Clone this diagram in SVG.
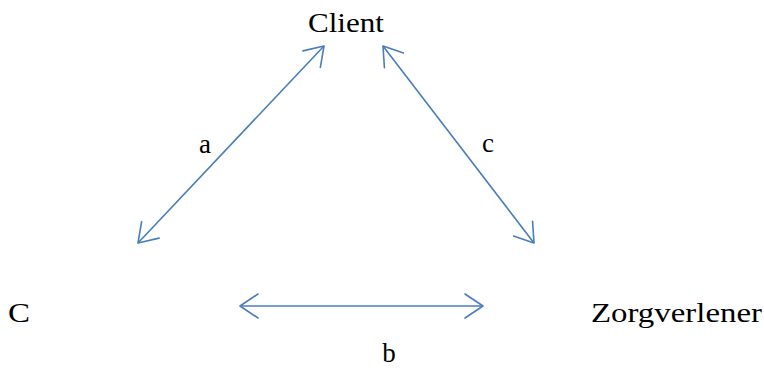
<svg xmlns="http://www.w3.org/2000/svg" width="764" height="370" viewBox="0 0 764 370">
<style>
.t{font-family:"Liberation Serif","Times New Roman",serif;fill:#000}
.big{font-size:28px}
.sm{font-size:27px}
.ln{stroke:#4a7ebb;stroke-width:1.6;fill:none}
</style>
<defs>
<marker id="ah" viewBox="0 0 20 26" refX="19" refY="13" markerWidth="20" markerHeight="26" markerUnits="userSpaceOnUse" orient="auto-start-reverse">
<path d="M1,1 L19,13 L1,25" fill="none" stroke="#4a7ebb" stroke-width="1.6" stroke-linecap="round" stroke-linejoin="round"/>
</marker>
</defs>
<g id="client"><text class="t big" x="346" y="32" text-anchor="middle" textLength="76" lengthAdjust="spacingAndGlyphs">Client</text></g>
<g id="c-node"><text class="t big" x="8" y="322" textLength="22" lengthAdjust="spacingAndGlyphs">C</text></g>
<g id="zorgverlener"><text class="t big" x="591" y="322" textLength="171" lengthAdjust="spacingAndGlyphs">Zorgverlener</text></g>
<g id="connectors">
<line class="ln" x1="138" y1="243" x2="324" y2="46" marker-start="url(#ah)" marker-end="url(#ah)"/>
<line class="ln" x1="383" y1="46" x2="534" y2="243" marker-start="url(#ah)" marker-end="url(#ah)"/>
<line class="ln" x1="240" y1="306" x2="483" y2="306" marker-start="url(#ah)" marker-end="url(#ah)"/>
<text class="t sm" x="205" y="153" text-anchor="middle">a</text>
<text class="t sm" x="488" y="152" text-anchor="middle">c</text>
<text class="t sm" x="389" y="362" text-anchor="middle">b</text>
</g>
</svg>
